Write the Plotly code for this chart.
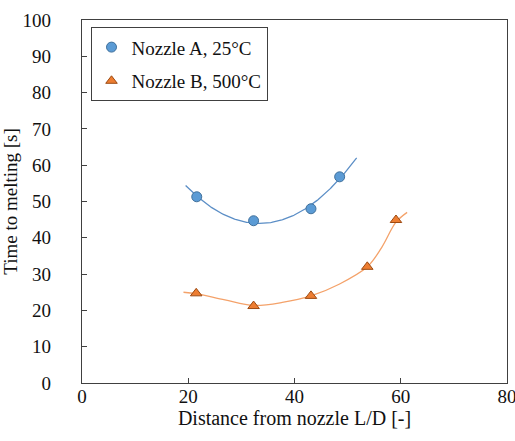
import numpy as np
import plotly.graph_objects as go

# Data
xa = [21.6, 32.3, 43.1, 48.5]
ya = [51.3, 44.7, 48.0, 56.8]
xb = [21.5, 32.3, 43.1, 53.7, 59.1]
yb = [24.7, 21.2, 24.0, 32.0, 44.9]
name_a = "Nozzle A, 25°C"
name_b = "Nozzle B, 500°C"
range_a = [19.5, 51.7]
# Trend curve for nozzle B
trend_bx = [19.1, 21.5, 26.9, 32.3, 37.7, 43.1, 48.4, 53.7, 56.4, 59.1, 61.2]
trend_by = [25.0, 24.6, 22.9, 21.4, 22.2, 24.0, 27.2, 32.0, 37.3, 44.3, 47.0]

ca = np.polyfit(xa, ya, 2)
ta = np.linspace(range_a[0], range_a[1], 200)

fig = go.Figure()
fig.add_trace(go.Scatter(x=ta, y=np.polyval(ca, ta), mode="lines",
                         line=dict(color="#5B8EC6", width=1.3),
                         showlegend=False, hoverinfo="skip"))
fig.add_trace(go.Scatter(x=trend_bx, y=trend_by, mode="lines",
                         line=dict(color="#F4A26A", width=1.3, shape="spline", smoothing=1.0),
                         showlegend=False, hoverinfo="skip"))
fig.add_trace(go.Scatter(x=xa, y=ya, mode="markers", name=name_a, legendgroup="a",
                         marker=dict(symbol="circle", size=10, color="#5B9BD5",
                                     line=dict(color="#41719C", width=1))))
fig.add_trace(go.Scatter(x=xb, y=yb, mode="markers", name=name_b, legendgroup="b",
                         marker=dict(symbol="triangle-up", size=10, color="#ED7D31",
                                     line=dict(color="#9C4A12", width=1))))

font = dict(family="Liberation Serif, Times New Roman, serif", size=19, color="#111111")
axis_common = dict(showline=True, linecolor="#404040", linewidth=1.3, mirror=True,
                   ticks="inside", ticklen=5, tickcolor="#404040", showgrid=False,
                   zeroline=False, tickfont=font, ticklabeloverflow="allow",
                   automargin=False)
fig.update_layout(
    width=515, height=441,
    margin=dict(l=82, r=8, t=20, b=58),
    plot_bgcolor="white", paper_bgcolor="white",
    font=font,
    xaxis=dict(range=[0, 80], dtick=20, ticklabelstandoff=-4,
               title=dict(text="Distance from nozzle L/D [-]", font=dict(size=20), standoff=0),
               **axis_common),
    yaxis=dict(range=[0, 100], dtick=10, ticklabelstandoff=26,
               title=dict(text="Time to melting [s]", font=dict(size=19), standoff=0),
               **axis_common),
    legend=dict(x=0.02, y=0.98, xanchor="left", yanchor="top",
                bordercolor="#404040", borderwidth=1, bgcolor="white",
                font=dict(size=19), tracegroupgap=6, itemwidth=30),
)
fig.write_html("out.html")
